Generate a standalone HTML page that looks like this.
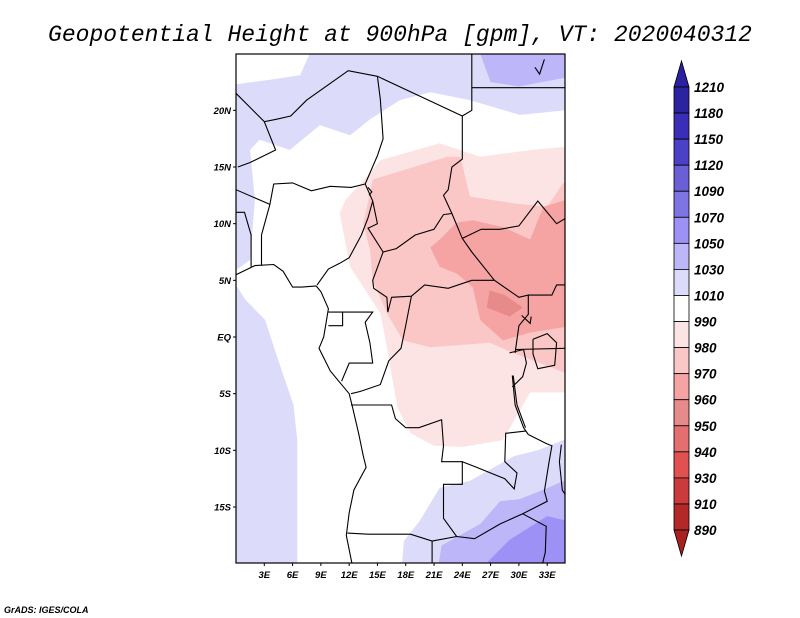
<!DOCTYPE html>
<html><head><meta charset="utf-8"><style>
html,body{margin:0;padding:0;background:#fff;width:800px;height:618px;overflow:hidden}
svg{display:block}
.t{font-family:"Liberation Mono",monospace;font-style:italic}
.l{font-family:"Liberation Sans",sans-serif;font-style:italic;font-weight:bold}
</style></head><body>
<svg id="chart" width="800" height="618" viewBox="0 0 800 618">
<text class="t" x="400" y="41" text-anchor="middle" font-size="23" fill="#000">Geopotential Height at 900hPa [gpm], VT: 2020040312</text>
<defs><clipPath id="mapclip"><rect x="236" y="54" width="329" height="509"/></clipPath></defs>
<g id="map" clip-path="url(#mapclip)"></g>
<g id="borders" clip-path="url(#mapclip)"></g>
<rect x="236" y="54" width="329" height="509" fill="none" stroke="#000" stroke-width="1.2"/>
<g id="axes"></g>
<g id="cbar"></g>
<text class="l" x="4" y="613" font-size="9">GrADS: IGES/COLA</text>
</svg>
<script>
// ---- data ----
const cbarLevels = [1210,1180,1150,1120,1090,1070,1050,1030,1010,990,980,970,960,950,940,930,910,890];
const cbarColors = ["#2c1fa0","#2b239f","#3a2db8","#4b40c8","#6a5fd6","#7f74e4","#9d91f5","#bdb6f8","#dcdcfa","#ffffff","#fde4e4","#fbc6c6","#f5a3a3","#e68a8a","#e56e6e","#e35050","#cc3b3b","#b52828","#a82020"];
const lonTicks = [3,6,9,12,15,18,21,24,27,30,33];
const latTicks = [20,15,10,5,0,-5,-10,-15];
const latLabels = ["20N","15N","10N","5N","EQ","5S","10S","15S"];
const blueNorth = [[0,25],[35,25],[35,20],[30.1,19.6],[24.8,20.9],[20.6,21.6],[17.4,20.9],[14.2,19.2],[12.1,17.8],[8.9,18.7],[5.7,16.5],[2.5,17.4],[1.5,16.5],[2,12.1],[1.5,6.8],[0,5.9]];
const whiteTopLeft = [[0,25],[7.8,25],[6.8,23.1],[3.6,22.7],[0,22.3]];
const purpleTop = [[25.9,25],[35,25],[35,22.9],[30,22.1],[27,22.5]];
const blueOcean = [[0,4.6],[1,3.3],[3.1,1.5],[4.1,-1.1],[5.2,-3.8],[6.1,-6],[6.5,-9.1],[6.5,-20],[0,-20]];
const blueSouth = [[17.6,-20],[17.8,-18],[19.5,-16.2],[21.6,-13.3],[24.8,-12.7],[29.5,-10.5],[32,-10],[35,-9.0],[35,-20]];
const purpleSouth = [[21.5,-20],[21.8,-18.4],[25.9,-16.5],[28,-14.5],[30.1,-14.3],[32.8,-13.4],[35,-12.6],[35,-20]];
const purpleDark = [[26.5,-20],[29,-17.9],[31.5,-16.6],[33,-15.8],[35,-16.2],[35,-20]];
const pink980 = [[11.0,10.9],[12.1,6.2],[15.3,2.1],[16.0,-0.9],[17.1,-6.2],[18.5,-8.5],[21,-9.6],[24.1,-9.7],[28.3,-9.1],[31.2,-4.9],[35,-4.9],[35,16.8],[31.2,16.5],[25.9,15.9],[21.6,17.1],[15.3,15.6],[13.1,13.4],[11.6,12.1]];
const pink970 = [[14.5,13.9],[22.4,15.9],[23.8,15.9],[24.8,12.4],[29.4,11.8],[33,11.5],[34.7,13.6],[35,13.6],[35,-3.2],[29.4,-1.4],[26.9,-0.5],[20.6,-0.9],[17.7,-0.3],[16,2.1],[14.5,5],[14.2,7.7],[13.5,10]];
const pink960 = [[21.6,8.6],[23.4,10.1],[25.1,10.3],[28.3,9.7],[31.2,8.6],[32.6,11.5],[35,12.1],[35,0.9],[31.2,0.4],[28.3,-0.3],[25.9,1.5],[25.1,4.4],[23.4,5.6],[21.6,6.2],[20.6,7.9]];
const pink950 = [[26.9,4.1],[28.5,3.7],[30.4,2.6],[29,1.8],[26.6,2.6]];
const regions = [
  ["#dcdcfa",blueNorth,"contour-1010-north"],["#ffffff",whiteTopLeft,"contour-990-nw"],["#bdb6f8",purpleTop,"contour-1030-ne"],
  ["#dcdcfa",blueOcean,"contour-1010-ocean"],["#dcdcfa",blueSouth,"contour-1010-south"],["#bdb6f8",purpleSouth,"contour-1030-south"],
  ["#9d91f5",purpleDark,"contour-1050-south"],["#fde4e4",pink980,"contour-980"],["#fbc6c6",pink970,"contour-970"],
  ["#f5a3a3",pink960,"contour-960"],["#e68a8a",pink950,"contour-950"]];
const borderLines = [
  [[0,5.5],[2,6.3],[4,6.4],[5,5.8],[6,4.4],[7,4.4],[8.5,4.5],[9,4],[9.8,2.5],[9.5,1],[9.3,0],[8.8,-1],[10,-3],[11,-4],[12,-5],[12.3,-6],[13,-8.5],[13.5,-10.5],[13.8,-11.5],[12.5,-13.5],[12,-15.5],[11.7,-17.5],[12.3,-20]],
  [[0,21.5],[3,19],[4.2,19.2],[5.8,19.5],[7.5,20.9],[11.9,23.5],[15,23]],
  [[15,23],[24,19.5],[25,20],[25,25]],[[25,22],[35,22]],
  [[15,23],[15.3,21],[15.6,17.5],[15,16],[13.7,13.5]],
  [[3,19],[4.2,16.5],[1.5,15.4],[0.2,15]],
  [[0,13],[3.6,11.7],[4,13.5],[6,13.6],[8,12.9],[10,13.3],[12.2,13.2],[13.7,13.5]],
  [[2.7,6.3],[2.7,9],[3.6,11.7]],[[1.6,6.2],[1.6,9],[0.9,11],[0,11]],
  [[13.7,13.5],[14.5,12],[14,10.5],[13.3,9],[12,7],[11,6.5],[9.8,6],[8.6,4.6]],
  [[14.5,12],[15,10],[14,9.6],[15.6,7.5],[17,7.8],[19,9],[21,9.5],[22,10.8],[22.9,10.9]],
  [[24,19.5],[24,15.7],[22.9,15],[22.5,13],[22,12.5],[22.9,10.9],[24,8.7],[25,7.5],[27.4,5]],
  [[24,8.7],[26,9.5],[28,9.5],[30,9.8],[32,12],[34,10],[35,10.5]],
  [[15.6,7.5],[14.5,5],[14.6,4.3],[16,3.5],[16.1,2.2],[16.5,3.5],[18.6,3.6],[20,4.6],[22.5,4.3],[25,5],[27.4,5],[30,3.5],[31,3.7],[31,2],[30,1],[29.6,-1.4]],
  [[31,3.7],[33.5,3.7],[34,4.6],[35,4.6]],[[29.6,-1.1],[35,-1]],
  [[18.6,3.6],[18,1],[17.5,-1],[16.2,-2.1],[15.3,-4.2],[13.2,-4.8],[12.2,-5]],
  [[9.8,2.2],[11.3,2.2],[13.3,2.2],[14.5,2.2],[13.7,1.3],[14.2,-0.5],[14.5,-2.3],[12,-2.3],[11.2,-3.9]],
  [[9.8,1],[11.3,1],[11.3,2.2]],
  [[12.2,-6],[16.5,-6],[16.9,-7.2],[18,-8],[19.4,-8],[21.8,-7.3],[22,-9.6],[21.8,-11],[24,-11],[24,-13],[22,-13],[22,-16],[23.4,-17.6],[20.8,-18],[18.5,-17.4],[14,-17.4],[11.8,-17.3]],
  [[24,-11],[25.5,-11.5],[27,-12],[28.5,-12.5],[29.5,-13.4],[29.8,-12],[28.5,-11],[28.6,-8.5],[30.7,-8.3]],
  [[23.4,-17.6],[25.3,-17.8],[28,-16.5],[30.4,-15.6],[33,-14.5],[32.7,-13.6],[33.2,-11],[33.5,-9.6],[32.9,-9.4],[31,-8.6]],
  [[29.3,-3.4],[29.6,-6],[30.5,-8],[31,-8.6]],[[29.4,-3.4],[29.8,-6],[30.7,-8]],
  [[29,-1.4],[30.5,-1.1],[30.8,-2.3],[30.4,-3.5],[29.3,-4.4]],
  [[30.4,-15.6],[32.9,-16.7],[32.8,-19],[32.5,-20]],[[20.8,-18],[20.8,-20]],
  [[34.5,-9.5],[34.3,-11],[34.6,-13.5],[35,-14]],
  [[31.5,-0.2],[33,0.3],[34,-0.5],[33.8,-2.5],[32,-2.8],[31.5,-1.5],[31.5,-0.2]],
  [[30.3,1.9],[31.2,1.2],[31.3,1.8]],
  [[14,13.2],[14.4,12.8],[14.1,12.5]],
  [[31.7,23.8],[32.2,23.2],[32.7,24.5]]
];
const NS = "http://www.w3.org/2000/svg";
function projX(lon) { return 236 + lon * 9.43; }
function projY(lat) { return 337 - lat * 11.333; }
function pts(arr) { return arr.map(p => projX(p[0]).toFixed(1) + "," + projY(p[1]).toFixed(1)).join(" "); }
(function () {
  const mapG = document.getElementById("map");
  const bg = document.createElementNS(NS, "rect");
  bg.setAttribute("x", 236); bg.setAttribute("y", 54); bg.setAttribute("width", 329); bg.setAttribute("height", 509); bg.setAttribute("fill", "#fff");
  
  
  mapG.appendChild(bg);
  regions.forEach(r => {
    const p = document.createElementNS(NS, "polygon");
    p.setAttribute("points", pts(r[1])); p.setAttribute("fill", r[0]);
    
    
    mapG.appendChild(p);
  });
  const bd = document.getElementById("borders");
  borderLines.forEach(l => {
    const p = document.createElementNS(NS, "polyline");
    p.setAttribute("points", pts(l)); p.setAttribute("fill", "none"); p.setAttribute("stroke", "#000"); p.setAttribute("stroke-width", "1.1");
    
    
    bd.appendChild(p);
  });
  const ax = document.getElementById("axes");
  lonTicks.forEach(v => {
    const t = document.createElementNS(NS, "text");
    t.setAttribute("x", projX(v)); t.setAttribute("y", 578); t.setAttribute("text-anchor", "middle");
    t.setAttribute("class", "l"); t.setAttribute("font-size", "9.5");
    t.textContent = v + "E";
    
    
    ax.appendChild(t);
    const k = document.createElementNS(NS, "line");
    k.setAttribute("x1", projX(v)); k.setAttribute("x2", projX(v)); k.setAttribute("y1", 563); k.setAttribute("y2", 566); k.setAttribute("stroke", "#000");
    
    
    ax.appendChild(k);
  });
  latTicks.forEach((v, i) => {
    const t = document.createElementNS(NS, "text");
    t.setAttribute("x", 231); t.setAttribute("y", projY(v) + 3.5); t.setAttribute("text-anchor", "end");
    t.setAttribute("class", "l"); t.setAttribute("font-size", "9.5");
    t.textContent = latLabels[i];
    
    
    ax.appendChild(t);
    const k = document.createElementNS(NS, "line");
    k.setAttribute("x1", 233); k.setAttribute("x2", 236); k.setAttribute("y1", projY(v)); k.setAttribute("y2", projY(v)); k.setAttribute("stroke", "#000");
    
    
    ax.appendChild(k);
  });
  const cb = document.getElementById("cbar");
  const cx0 = 674, cx1 = 689, cTop = 87, bh = 26.06;
  const nBox = cbarLevels.length - 1;
  const tri1 = document.createElementNS(NS, "polygon");
  tri1.setAttribute("points", cx0 + "," + cTop + " " + cx1 + "," + cTop + " " + ((cx0 + cx1) / 2) + "," + (cTop - 26));
  tri1.setAttribute("fill", cbarColors[0]); tri1.setAttribute("stroke", "#000"); tri1.setAttribute("stroke-width", "0.8");
  
  
  cb.appendChild(tri1);
  for (let i = 0; i < nBox; i++) {
    const r = document.createElementNS(NS, "rect");
    r.setAttribute("x", cx0); r.setAttribute("y", cTop + i * bh); r.setAttribute("width", cx1 - cx0); r.setAttribute("height", bh);
    r.setAttribute("fill", cbarColors[i + 1]); r.setAttribute("stroke", "#000"); r.setAttribute("stroke-width", "0.8");
    
    
    cb.appendChild(r);
  }
  const yb = cTop + nBox * bh;
  const tri2 = document.createElementNS(NS, "polygon");
  tri2.setAttribute("points", cx0 + "," + yb + " " + cx1 + "," + yb + " " + ((cx0 + cx1) / 2) + "," + (yb + 26));
  tri2.setAttribute("fill", cbarColors[cbarColors.length - 1]); tri2.setAttribute("stroke", "#000"); tri2.setAttribute("stroke-width", "0.8");
  
  
  cb.appendChild(tri2);
  cbarLevels.forEach((v, i) => {
    const t = document.createElementNS(NS, "text");
    t.setAttribute("x", 694); t.setAttribute("y", cTop + i * bh + 5);
    t.setAttribute("class", "l"); t.setAttribute("font-size", "13.5");
    t.textContent = v;
    
    
    cb.appendChild(t);
  });
})();
</script>
</body></html>
